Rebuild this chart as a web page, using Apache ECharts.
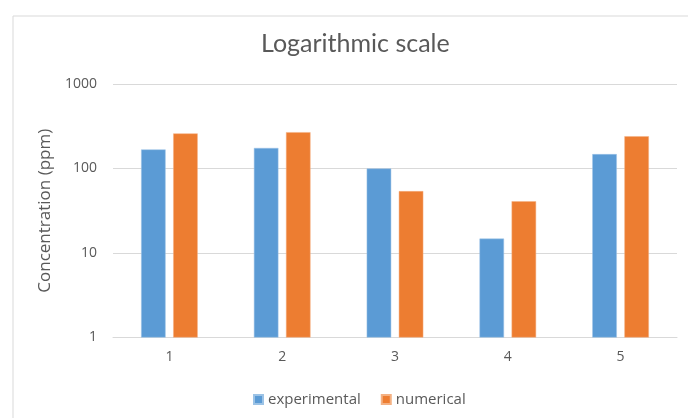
<!DOCTYPE html>
<html>
<head>
<meta charset="utf-8">
<script src="https://cdn.jsdelivr.net/npm/echarts@6/dist/echarts.min.js"></script>
<style>
html,body{margin:0;padding:0;background:#fff;}
#c{width:688px;height:418px;}
</style>
</head>
<body>
<div id="c"></div>
<script>
const categories = ['1', '2', '3', '4', '5'];
const experimental = [168, 175, 100, 14.8, 148];
const numerical = [260, 269, 54, 41, 241];
const yTicks = [1, 10, 100, 1000];

const font = '"Open Sans", Lato, sans-serif';
const titleFont = 'Lato, "Open Sans", sans-serif';
const grey = '#595959';
const chart = echarts.init(document.getElementById('c'), null, {renderer: 'canvas'});
chart.setOption({
  animation: false,
  backgroundColor: '#ffffff',
  graphic: [{
    type: 'rect',
    left: 10.5, top: 13.5,
    shape: {width: 700, height: 420},
    style: {fill: 'none', stroke: '#D9D9D9', lineWidth: 1},
    silent: true
  }],
  title: {
    text: 'Logarithmic scale',
    left: 256,
    top: 26,
    textStyle: {fontFamily: titleFont, fontSize: 25, fontWeight: 'normal', color: grey}
  },
  legend: {
    data: ['experimental', 'numerical'],
    left: 248,
    top: 387,
    icon: 'rect',
    itemWidth: 9,
    itemHeight: 9,
    itemGap: 20,
    textStyle: {fontFamily: font, fontSize: 15, color: grey}
  },
  grid: {left: 113, right: 11, top: 84, bottom: 80.5, containLabel: false},
  xAxis: {
    type: 'category',
    data: categories,
    axisLine: {lineStyle: {color: '#D9D9D9'}},
    axisTick: {show: false},
    axisLabel: {fontFamily: font, fontSize: 14, color: grey, margin: 13}
  },
  yAxis: {
    type: 'log',
    logBase: 10,
    min: yTicks[0],
    max: yTicks[yTicks.length - 1],
    name: 'Concentration (ppm)',
    nameLocation: 'middle',
    nameGap: 58,
    nameRotate: 90,
    nameTextStyle: {fontFamily: font, fontSize: 17, color: grey},
    axisLine: {show: false},
    axisTick: {show: false},
    splitLine: {lineStyle: {color: '#D9D9D9'}},
    axisLabel: {fontFamily: font, fontSize: 14, color: grey, margin: 16,
      formatter: function (v) { return String(Math.round(v)); }}
  },
  series: [
    {
      name: 'experimental', type: 'bar', data: experimental,
      barWidth: 24.5, barGap: '31%',
      itemStyle: {color: '#5B9BD5', borderColor: '#9CC3E6', borderWidth: 0.5}
    },
    {
      name: 'numerical', type: 'bar', data: numerical,
      barWidth: 24.5, barGap: '31%',
      itemStyle: {color: '#ED7D31', borderColor: '#F4B183', borderWidth: 0.5}
    }
  ]
});
</script>
</body>
</html>
